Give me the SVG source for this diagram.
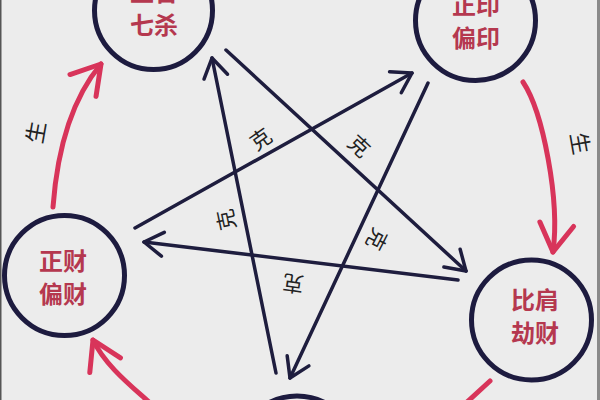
<svg xmlns="http://www.w3.org/2000/svg" width="600" height="400" viewBox="0 0 600 400">
<defs>
<style>
.ring{fill:none;stroke:#1d1b3f;stroke-width:5}
.lbl{font-family:"Noto Sans CJK SC","Noto Sans CJK TC",sans-serif;font-size:24px;font-weight:700;fill:#b5384f;text-anchor:middle}
.ke{font-family:"Noto Sans CJK SC","Noto Sans CJK TC",sans-serif;font-size:21px;fill:#222;text-anchor:middle;dominant-baseline:central}
.sh{font-family:"Noto Sans CJK SC","Noto Sans CJK TC",sans-serif;font-size:22px;fill:#222;text-anchor:middle;dominant-baseline:central}
.k{fill:none;stroke:#1e1d3e;stroke-width:3.5;stroke-linecap:round}
.s{fill:none;stroke:#d8345a;stroke-width:5;stroke-linecap:round}
</style>
<marker id="ak" markerUnits="userSpaceOnUse" orient="auto" markerWidth="40" markerHeight="40" viewBox="-25 -20 30 40" refX="0" refY="0" overflow="visible">
<path d="M-19,-12 L0,0 L-19,12" fill="none" stroke="#1e1d3e" stroke-width="3.5" stroke-linecap="round" stroke-linejoin="round"/>
</marker>
<marker id="as" markerUnits="userSpaceOnUse" orient="auto" markerWidth="50" markerHeight="50" viewBox="-35 -25 40 50" refX="0" refY="0" overflow="visible">
<path d="M-28,-17 L0,0 L-28,17" fill="none" stroke="#d8345a" stroke-width="5" stroke-linecap="round" stroke-linejoin="round"/>
</marker>
</defs>
<rect width="600" height="400" fill="#ececec"/>
<rect x="0" y="0" width="1.5" height="400" fill="#555"/>
<rect x="597" y="0" width="3" height="400" fill="#8a8a8a"/>

<g id="connectors">
<g id="ke-lines">
<path class="k" d="M276,373 L212,58" marker-end="url(#ak)"/>
<path class="k" d="M135,228 L412,73" marker-end="url(#ak)"/>
<path class="k" d="M428,83 L290,378" marker-end="url(#ak)"/>
<path class="k" d="M458,280 L144,242" marker-end="url(#ak)"/>
<path class="k" d="M226,50 L466,271" marker-end="url(#ak)"/>
</g>
<g id="sheng-arrows">
<path class="s" d="M53,207 C58,140 75,95 101,64" marker-end="url(#as)"/>
<path class="s" d="M523,82 C543,112 560,200 553,252" marker-end="url(#as)"/>
<path class="s" d="M490,381 L466,403"/>
<path class="s" d="M150,403 C130,385 105,365 93,340" marker-end="url(#as)"/>
</g>
<g id="labels">
<text class="ke" transform="translate(260,138) rotate(-35)">克</text>
<text class="ke" transform="translate(360,145) rotate(43)">克</text>
<text class="ke" transform="translate(225,220) rotate(-102)">克</text>
<text class="ke" transform="translate(378,240) rotate(117)">克</text>
<text class="ke" transform="translate(293,285) rotate(-172)">克</text>
<text class="sh" transform="translate(34,132) rotate(-80)">生</text>
<text class="sh" transform="translate(582,143) rotate(80)">生</text>
</g>
</g>

<g id="guansha">
<circle class="ring" cx="153.5" cy="10.5" r="59"/>
<text class="lbl" x="154" y="1">正官</text>
<text class="lbl" x="154" y="34">七杀</text>
</g>
<g id="zhengyin">
<circle class="ring" cx="475.5" cy="20.5" r="60"/>
<text class="lbl" x="476" y="14">正印</text>
<text class="lbl" x="476" y="47">偏印</text>
</g>
<g id="zhengcai">
<circle class="ring" cx="64.5" cy="275.5" r="60"/>
<text class="lbl" x="63" y="270">正财</text>
<text class="lbl" x="63" y="303">偏财</text>
</g>
<g id="bijian">
<circle class="ring" cx="531.5" cy="320" r="60"/>
<text class="lbl" x="535" y="309">比肩</text>
<text class="lbl" x="535" y="342">劫财</text>
</g>
<g id="bottom">
<circle class="ring" cx="297" cy="456" r="60"/>
</g>
</svg>
